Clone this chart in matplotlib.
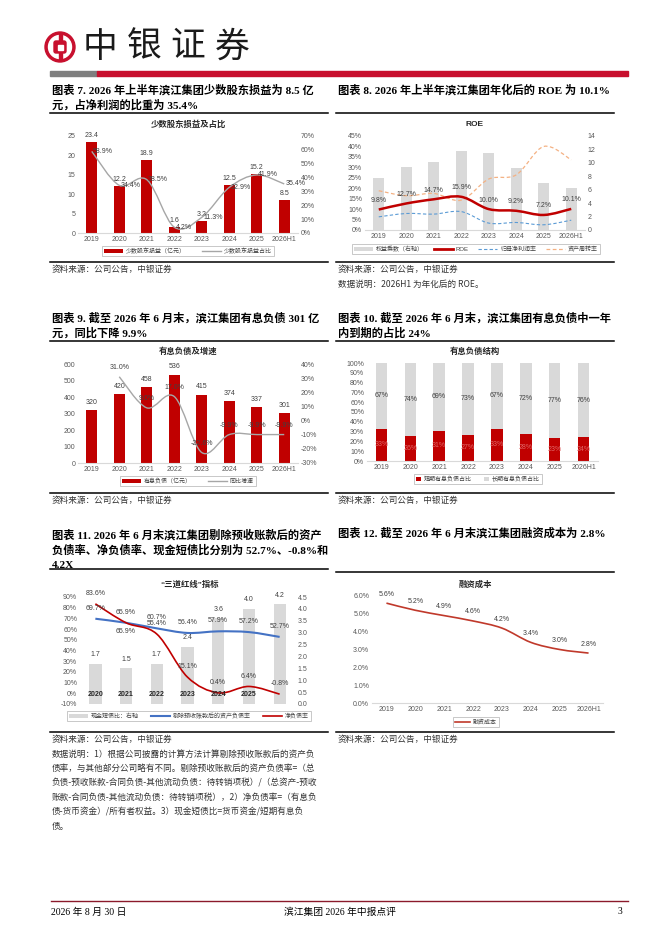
import numpy as np
import matplotlib
matplotlib.use("Agg")
import matplotlib.pyplot as plt
from matplotlib.path import Path
from matplotlib.patches import PathPatch, Rectangle, Circle, Patch, FancyBboxPatch
from matplotlib.lines import Line2D
from matplotlib.ticker import FuncFormatter

# ---- data ----
years8 = ["2019", "2020", "2021", "2022", "2023", "2024", "2025", "2026H1"]

minority = [23.4, 12.2, 18.9, 1.6, 3.2, 12.5, 15.2, 8.5]          # 亿元
minority_pct = [58.9, 34.4, 38.5, 4.2, 11.3, 32.9, 41.9, 35.4]    # %

roe = [9.8, 12.7, 14.7, 15.9, 10.0, 9.2, 7.2, 10.1]
net_margin = [6.3, 7.9, 7.6, 8.8, 3.3, 3.6, 2.5, 4.7]
turnover = [18.8, 16.4, 17.5, 14.3, 24.4, 26.4, 40.0, 33.6]
multiplier = [7.7, 9.35, 10.2, 11.7, 11.4, 9.3, 6.95, 6.2]

debt = [320, 420, 458, 536, 415, 374, 337, 301]
debt_yoy_years = ["2020", "2021", "2022", "2023", "2024", "2025", "2026H1"]
debt_yoy = [31.0, 9.0, 17.0, -22.6, -9.9, -9.9, -9.9]

short_pct = [33, 26, 31, 27, 33, 28, 23, 24]
long_pct = [67, 74, 69, 73, 67, 72, 77, 76]

years11 = ["2020", "2021", "2022", "2023", "2024", "2025", ""]
cash_ratio = [1.7, 1.5, 1.7, 2.4, 3.6, 4.0, 4.2]
debt_ratio_adj = [69.7, 65.9, 60.7, 56.4, 57.9, 57.2, 52.7]
net_debt = [83.6, 65.9, 55.4, 15.1, 0.4, 6.4, -0.8]

fin_cost = [5.6, 5.2, 4.9, 4.6, 4.2, 3.4, 3.0, 2.8]

RED = "#c00000"
GREY = "#d9d9d9"
TXT = "#404040"
TICK = "#595959"
CJK = ["Liberation Sans", "Noto Sans CJK SC"]
SERIF = ["Liberation Serif", "Noto Sans CJK SC"]

plt.rcParams["font.family"] = CJK
plt.rcParams["axes.unicode_minus"] = False

W, H = 662, 936
fig = plt.figure(figsize=(W / 100, H / 100), dpi=100)


def rect(x0, y0, x1, y1):
    return [x0 / W, 1 - y1 / H, (x1 - x0) / W, (y1 - y0) / H]


def style(ax, bottom=True):
    for s in ax.spines.values():
        s.set_visible(False)
    if bottom:
        ax.spines["bottom"].set_visible(True)
        ax.spines["bottom"].set_color(GREY)
        ax.spines["bottom"].set_linewidth(0.8)
    ax.tick_params(length=0, labelsize=5, colors=TICK, pad=2)
    ax.set_facecolor("none")


def smooth(ax, xs, ys, **kw):
    # excel-like smoothed line drawn as a bezier path through the points
    n = len(xs)
    verts = [(xs[0], ys[0])]
    codes = [Path.MOVETO]
    for i in range(n - 1):
        x0, y0 = (xs[i - 1], ys[i - 1]) if i > 0 else (xs[i], ys[i])
        x1, y1 = xs[i], ys[i]
        x2, y2 = xs[i + 1], ys[i + 1]
        x3, y3 = (xs[i + 2], ys[i + 2]) if i + 2 < n else (x2, y2)
        verts += [(x1 + (x2 - x0) / 6, y1 + (y2 - y0) / 6),
                  (x2 - (x3 - x1) / 6, y2 - (y3 - y1) / 6),
                  (x2, y2)]
        codes += [Path.CURVE4] * 3
    ax.add_patch(PathPatch(Path(verts, codes), fill=False, **kw))


def pct(v, _):
    return f"{v:.0f}%"


def legend(ax, handles, labels, cx, cy, ncol, **kw):
    opts = dict(loc="center", bbox_to_anchor=(cx / W, 1 - cy / H),
                bbox_transform=fig.transFigure, ncol=ncol, fontsize=4.3,
                frameon=True, fancybox=False, edgecolor="#bfbfbf",
                framealpha=1, borderpad=0.35, handlelength=3.2,
                handletextpad=0.5, columnspacing=2.6, labelcolor=TXT)
    opts.update(kw)
    leg = ax.legend(handles, labels, **opts)
    leg.get_frame().set_linewidth(0.6)
    return leg


def label(ax, x, y, s, dy=3, dx=0, ha="center", va="bottom", color=TXT):
    ax.annotate(s, (x, y), xytext=(dx, dy), textcoords="offset points",
                ha=ha, va=va, fontsize=5, color=color)


def twin_left(ax):
    # twin axes whose ticks sit on the left, the main one moves right
    ax2 = ax.twinx()
    ax.yaxis.tick_right()
    ax2.yaxis.tick_left()
    return ax2


# ---- page background layer in pixel coordinates ----
bg = fig.add_axes([0, 0, 1, 1])
bg.set_xlim(0, W)
bg.set_ylim(H, 0)
bg.axis("off")

# logo
bg.add_patch(Circle((60, 47), 15, color="#c8102e"))
bg.add_patch(Circle((60, 47), 11.5, color="white"))
bg.add_patch(FancyBboxPatch((54, 41), 12, 12, boxstyle="round,pad=0,rounding_size=2",
                            color="#c8102e"))
bg.add_patch(Rectangle((58.5, 34), 3, 26, color="#c8102e"))
bg.add_patch(Rectangle((57.5, 44.5), 5, 5, color="white"))
for i, ch in enumerate("中银证券"):
    bg.text(100 + i * 44, 47, ch, fontsize=25, ha="center", va="center",
            color="#1a1a1a", family="Noto Sans CJK SC", fontweight="light")
bg.add_patch(Rectangle((50, 71), 47, 5, color="#7f7f7f"))
bg.add_patch(Rectangle((97, 71), 531, 5, color="#c8102e"))

# footer
bg.plot([51, 628], [901, 901], color="#8b1a2b", lw=1)
bg.text(51, 912, "2026 年 8 月 30 日", fontsize=7, va="center", family=SERIF)
bg.text(340, 912, "滨江集团 2026 年中报点评", fontsize=7, va="center", ha="center", family=SERIF)
bg.text(622, 912, "3", fontsize=7, va="center", ha="right", family=SERIF)


def title(x, y, lines):
    for i, s in enumerate(lines):
        bg.text(x, y + i * 15, s, fontsize=8.1, fontweight="bold", va="center",
                family=SERIF, color="#000000")


def rule(x0, x1, y):
    bg.plot([x0, x1], [y, y], color="black", lw=1.1)


def source(x, y, s):
    bg.text(x, y, s, fontsize=6.2, va="center", color="#333333",
            family="Noto Sans CJK SC")


def chart_title(x, y, s):
    bg.text(x, y, s, fontsize=6, fontweight="bold", ha="center", va="center",
            color="#262626", family=["Liberation Sans", "Noto Sans CJK SC"])


# ---- 图表 7 ----
title(52, 90, ["图表 7. 2026 年上半年滨江集团少数股东损益为 8.5 亿",
               "元，占净利润的比重为 35.4%"])
rule(50, 328, 113)
chart_title(188, 124, "少数股东损益及占比")
x = np.arange(len(years8))
ax = fig.add_axes(rect(78, 136, 298, 233))
ax.bar(x, minority, 0.4, color=RED)
ax.set_xlim(-0.5, 7.5)
ax.set_ylim(0, 25)
ax.set_yticks(range(0, 26, 5))
ax.set_xticks(x, years8)
style(ax)
for xi, v in zip(x, minority):
    label(ax, xi, v, f"{v:.1f}", dy=2)
ax2 = ax.twinx()
ax2.set_ylim(0, 70)
ax2.set_yticks(range(0, 71, 10))
ax2.yaxis.set_major_formatter(FuncFormatter(pct))
style(ax2, bottom=False)
smooth(ax2, x, minority_pct, edgecolor="#a6a6a6", lw=1)
for xi, v in zip(x, minority_pct):
    label(ax2, xi, v, f"{v:.1f}%", dy=0, dx=1, ha="left", va="center")
legend(ax2, [Patch(facecolor=RED), Line2D([], [], color="#a6a6a6", lw=1)],
       ["少数股东损益（亿元）", "少数股东损益占比"], 188, 251, 2)
rule(50, 328, 262)
source(52, 269, "资料来源：公司公告，中银证券")

# ---- 图表 8 ----
title(338, 90, ["图表 8. 2026 年上半年滨江集团年化后的 ROE 为 10.1%"])
rule(336, 614, 113)
chart_title(475, 124, "ROE")
ax = fig.add_axes(rect(365, 136, 585, 230))
ax.bar(x, multiplier, 0.4, color=GREY)
ax.set_xlim(-0.5, 7.5)
ax.set_ylim(0, 14)
ax.set_yticks(range(0, 15, 2))
ax.set_xticks(x, years8)
style(ax)
ax2 = twin_left(ax)
ax2.set_ylim(0, 45)
ax2.set_yticks(range(0, 46, 5))
ax2.yaxis.set_major_formatter(FuncFormatter(pct))
style(ax2, bottom=False)
smooth(ax2, x, turnover, edgecolor="#f4b183", lw=0.9, linestyle=(0, (3, 2)))
smooth(ax2, x, net_margin, edgecolor="#5b9bd5", lw=0.8, linestyle=(0, (3, 2)))
smooth(ax2, x, roe, edgecolor=RED, lw=1.8)
for xi, v in zip(x, roe):
    label(ax2, xi, v, f"{v:.1f}%", dy=4)
legend(ax2, [Patch(facecolor=GREY), Line2D([], [], color=RED, lw=2),
             Line2D([], [], color="#5b9bd5", lw=0.8, ls=(0, (3, 2))),
             Line2D([], [], color="#f4b183", lw=0.9, ls=(0, (3, 2)))],
       ["权益乘数（右轴）", "ROE", "归母净利润率", "资产周转率"], 476, 249, 4,
       columnspacing=1.6)
rule(336, 614, 262)
source(338, 269, "资料来源：公司公告，中银证券")
source(338, 284, "数据说明：2026H1 为年化后的 ROE。")

# ---- 图表 9 ----
title(52, 318, ["图表 9. 截至 2026 年 6 月末，滨江集团有息负债 301 亿",
                "元，同比下降 9.9%"])
rule(50, 328, 341)
chart_title(188, 352, "有息负债及增速")
ax = fig.add_axes(rect(78, 364, 298, 463))
ax.bar(x, debt, 0.4, color=RED)
ax.set_xlim(-0.5, 7.5)
ax.set_ylim(0, 600)
ax.set_yticks(range(0, 601, 100))
ax.set_xticks(x, years8)
style(ax)
for xi, v in zip(x, debt):
    label(ax, xi, v, f"{v}", dy=3)
ax2 = ax.twinx()
ax2.set_ylim(-30, 40)
ax2.set_yticks(range(-30, 41, 10))
ax2.yaxis.set_major_formatter(FuncFormatter(pct))
style(ax2, bottom=False)
xy = [years8.index(y) for y in debt_yoy_years]
smooth(ax2, xy, debt_yoy, edgecolor="#a6a6a6", lw=1)
for xi, v in zip(xy, debt_yoy):
    label(ax2, xi, v, f"{v:.1f}%", dy=4)
legend(ax2, [Patch(facecolor=RED), Line2D([], [], color="#a6a6a6", lw=1)],
       ["有息负债（亿元）", "同比增速"], 188, 481, 2)
rule(50, 328, 493)
source(52, 500, "资料来源：公司公告，中银证券")

# ---- 图表 10 ----
title(338, 318, ["图表 10. 截至 2026 年 6 月末，滨江集团有息负债中一年",
                 "内到期的占比 24%"])
rule(336, 614, 341)
chart_title(475, 352, "有息负债结构")
ax = fig.add_axes(rect(367, 363, 598, 461))
ax.bar(x, short_pct, 0.4, color=RED)
ax.bar(x, long_pct, 0.4, bottom=short_pct, color=GREY)
ax.set_xlim(-0.5, 7.5)
ax.set_ylim(0, 100)
ax.set_yticks(range(0, 101, 10))
ax.yaxis.set_major_formatter(FuncFormatter(pct))
ax.set_xticks(x, years8)
style(ax)
for xi, s, l in zip(x, short_pct, long_pct):
    ax.text(xi, s / 2, f"{s}%", ha="center", va="center", fontsize=5, color="#e06666")
    ax.text(xi, s + l / 2, f"{l}%", ha="center", va="center", fontsize=5, color=TXT)
legend(ax, [Patch(facecolor=RED), Patch(facecolor=GREY)],
       ["短期有息负债占比", "长期有息负债占比"], 478, 479, 2,
       handlelength=0.8, handleheight=0.8, columnspacing=2.0)
rule(336, 614, 493)
source(338, 500, "资料来源：公司公告，中银证券")

# ---- 图表 11 ----
title(52, 535, ["图表 11. 2026 年 6 月末滨江集团剔除预收账款后的资产",
                "负债率、净负债率、现金短债比分别为 52.7%、-0.8%和",
                "4.2X"])
rule(50, 328, 569)
chart_title(190, 585, "“三道红线”指标")
x7 = np.arange(len(years11))
ax = fig.add_axes(rect(80, 597, 295, 704))
ax.bar(x7, cash_ratio, 0.4, color=GREY)
ax.set_xlim(-0.5, 6.5)
ax.set_ylim(0, 4.5)
ax.set_yticks(np.arange(0, 4.51, 0.5))
ax.yaxis.set_major_formatter(FuncFormatter(lambda v, _: f"{v:.1f}"))
ax.set_xticks([])
style(ax, bottom=False)
for xi, v in zip(x7, cash_ratio):
    label(ax, xi, v, f"{v:.1f}", dy=4)
ax2 = twin_left(ax)
ax2.set_ylim(-10, 90)
ax2.set_yticks(range(-10, 91, 10))
ax2.yaxis.set_major_formatter(FuncFormatter(pct))
style(ax2, bottom=False)
smooth(ax2, x7, debt_ratio_adj, edgecolor="#4472c4", lw=1.5)
smooth(ax2, x7, net_debt, edgecolor=RED, lw=1.2)
for xi, v in zip(x7, debt_ratio_adj):
    label(ax2, xi, v, f"{v:.1f}%", dy=5)
for i, (xi, v) in enumerate(zip(x7, net_debt)):
    if i == 1:
        label(ax2, xi, v, f"{v:.1f}%", dy=-4, va="top")
    else:
        label(ax2, xi, v, f"{v:.1f}%", dy=5)
for xi, s in zip(x7, years11):
    ax2.text(xi, -1, s, ha="center", va="center", fontsize=5, color="#262626",
             fontweight="bold")
legend(ax2, [Patch(facecolor=GREY), Line2D([], [], color="#4472c4", lw=1.5),
             Line2D([], [], color=RED, lw=1.2)],
       ["现金短债比：右轴", "剔除预收账款后的资产负债率", "净负债率"], 189, 716, 3,
       columnspacing=2.0)
rule(50, 328, 732)
source(52, 739, "资料来源：公司公告，中银证券")
notes = ["数据说明：1）根据公司披露的计算方法计算剔除预收账款后的资产负",
         "债率，与其他部分公司略有不同。剔除预收账款后的资产负债率=（总",
         "负债-预收账款-合同负债-其他流动负债：待转销项税）/（总资产-预收",
         "账款-合同负债-其他流动负债：待转销项税），2）净负债率=（有息负",
         "债-货币资金）/所有者权益。3）现金短债比=货币资金/短期有息负",
         "债。"]
for i, s in enumerate(notes):
    source(52, 754 + i * 14.5, s)

# ---- 图表 12 ----
title(338, 533, ["图表 12. 截至 2026 年 6 月末滨江集团融资成本为 2.8%"])
rule(336, 614, 572)
chart_title(475, 585, "融资成本")
ax = fig.add_axes(rect(372, 596, 603, 703))
ax.set_xlim(-0.5, 7.5)
ax.set_ylim(0, 6)
ax.set_yticks(range(0, 7))
ax.yaxis.set_major_formatter(FuncFormatter(lambda v, _: f"{v:.1f}%"))
ax.set_xticks(x, years8)
style(ax)
smooth(ax, x, fin_cost, edgecolor="#c0392b", lw=1.2)
for xi, v in zip(x, fin_cost):
    label(ax, xi, v, f"{v:.1f}%", dy=4)
legend(ax, [Line2D([], [], color="#c0392b", lw=1.2)], ["融资成本"], 476, 722, 1,
       handlelength=2.5)
rule(336, 614, 732)
source(338, 739, "资料来源：公司公告，中银证券")

fig.savefig("out.png", dpi=100)
